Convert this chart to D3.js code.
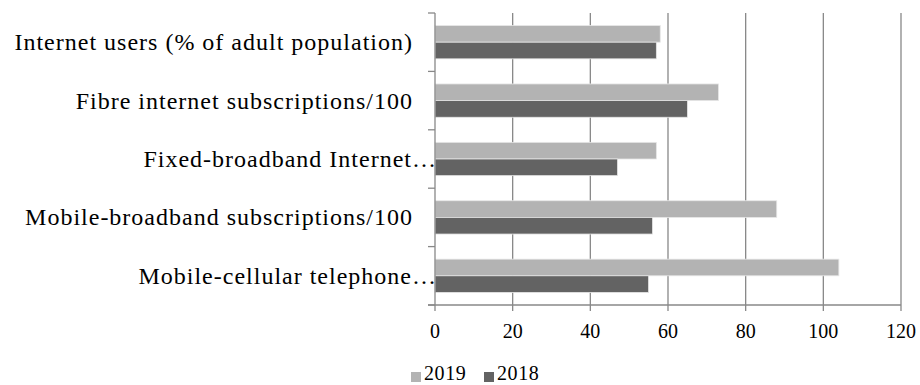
<!DOCTYPE html>
<html><head><meta charset="utf-8">
<script src="https://cdn.jsdelivr.net/npm/d3@7"></script>
<style>body{margin:0;background:#fff}svg{display:block}</style>
</head><body><svg id="c" width="920" height="385"></svg>
<script>
const categories = ["Internet users (% of adult population)","Fibre internet subscriptions/100","Fixed-broadband Internet…","Mobile-broadband subscriptions/100","Mobile-cellular telephone…"];
const series = ["2019","2018"];
const values2019 = [58,73,57,88,104];
const values2018 = [57,65,47,56,55];
const xTicks = [0,20,40,60,80,100,120];
const colors = {"2019":"#b3b3b3","2018":"#636363"};
const FONT = "'Liberation Serif', 'Times New Roman', Times, 'DejaVu Serif', serif";

const svg = d3.select("#c");
const m = {left:435, right:901, top:13, bottom:305};
const x = d3.scaleLinear().domain([0,120]).range([m.left,m.right]);
const y = d3.scaleBand().domain(categories).range([m.top,m.bottom]).paddingInner(0).paddingOuter(0);
const bandPad = 0.215;
const y1 = d3.scaleBand().domain(series).range([y.bandwidth()*bandPad, y.bandwidth()*(1-bandPad)]);

svg.append("g").selectAll("line").data(xTicks.slice(1)).join("line")
  .attr("x1",d=>x(d)).attr("x2",d=>x(d)).attr("y1",m.top).attr("y2",m.bottom)
  .attr("stroke","#888").attr("stroke-width",1.3);

const data = categories.map((c,i)=>({c, v:{"2019":values2019[i],"2018":values2018[i]}}));
const g = svg.append("g").selectAll("g").data(data).join("g").attr("transform",d=>`translate(0,${y(d.c)})`);
g.selectAll("rect").data(d=>series.map(s=>({s,v:d.v[s]}))).join("rect")
  .attr("x",x(0)).attr("y",d=>y1(d.s)).attr("width",d=>x(d.v)-x(0)).attr("height",y1.bandwidth())
  .attr("fill",d=>colors[d.s]).attr("stroke","#e6e6e6").attr("stroke-width",0.8);

const ya = svg.append("g").attr("transform",`translate(${m.left},0)`);
ya.append("line").attr("x1",0).attr("x2",0).attr("y1",m.top).attr("y2",m.bottom).attr("stroke","#888").attr("stroke-width",1.3);
const yEdges = categories.map(c=>y(c)).concat([m.bottom]);
ya.selectAll(".tk").data(yEdges).join("line").attr("x1",-7).attr("x2",0).attr("y1",d=>d).attr("y2",d=>d).attr("stroke","#888").attr("stroke-width",1.3);
ya.selectAll("text").data(categories).join("text")
  .attr("x",(d)=>d.endsWith("…")? 2 : -22).attr("y",d=>y(d)+y.bandwidth()/2+8)
  .attr("text-anchor","end").attr("font-family",FONT).attr("font-size",24).attr("letter-spacing",1).attr("fill","#000").text(d=>d);

const xa = svg.append("g").attr("transform",`translate(0,${m.bottom})`);
xa.append("line").attr("x1",m.left-7).attr("x2",m.right).attr("y1",0).attr("y2",0).attr("stroke","#888").attr("stroke-width",1.3);
xa.selectAll(".tk").data(xTicks).join("line").attr("x1",d=>x(d)).attr("x2",d=>x(d)).attr("y1",0).attr("y2",6).attr("stroke","#888").attr("stroke-width",1.3);
xa.selectAll("text").data(xTicks).join("text").attr("x",d=>x(d)).attr("y",33).attr("text-anchor","middle")
  .attr("font-family",FONT).attr("font-size",20).attr("fill","#000").text(d=>d);

const lg = svg.append("g");
const lx = [411,484];
series.forEach((s,i)=>{
  lg.append("rect").attr("x",lx[i]).attr("y",372).attr("width",10).attr("height",10).attr("fill",colors[s]);
  lg.append("text").attr("x",lx[i]+13).attr("y",380).attr("font-family",FONT).attr("font-size",20).attr("letter-spacing",0.6).attr("fill","#000").text(s);
});
</script></body></html>
